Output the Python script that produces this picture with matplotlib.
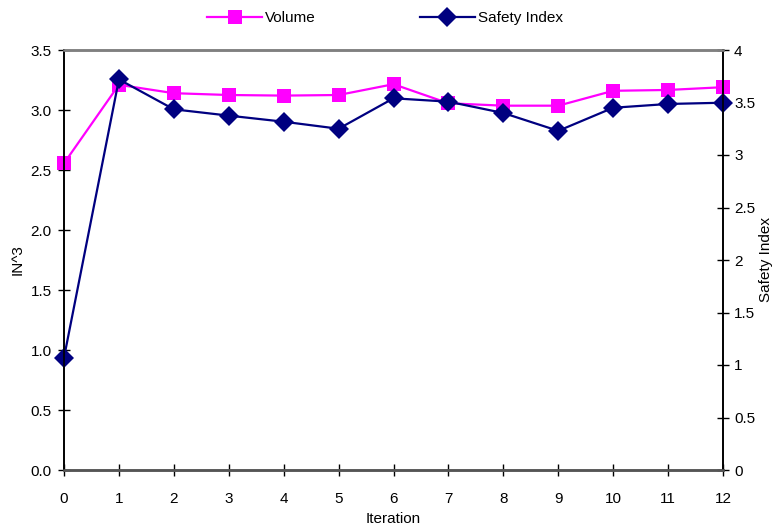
import matplotlib
matplotlib.use("Agg")
import matplotlib.pyplot as plt
from matplotlib.lines import Line2D

plt.rcParams['font.family'] = ['Liberation Sans', 'DejaVu Sans']
plt.rcParams['font.size'] = 11

iterations = list(range(13))
volume = [2.556, 3.21, 3.14, 3.125, 3.12, 3.125, 3.215, 3.056, 3.036, 3.036, 3.16, 3.167, 3.19]
safety_index = [1.07, 3.72, 3.435, 3.375, 3.317, 3.25, 3.54, 3.508, 3.40, 3.23, 3.45, 3.486, 3.498]

vol_ticks = [0.0, 0.5, 1.0, 1.5, 2.0, 2.5, 3.0, 3.5]
si_ticks = [0, 0.5, 1, 1.5, 2, 2.5, 3, 3.5, 4]
si_labels = ["0", "0.5", "1", "1.5", "2", "2.5", "3", "3.5", "4"]

vol_color = "#FF00FF"
si_color = "#000080"

fig = plt.figure(figsize=(7.73, 5.27), dpi=100)
ax = fig.add_axes([64 / 773, 57 / 527, 659 / 773, 420 / 527])
ax2 = ax.twinx()

ax.plot(iterations, volume, color=vol_color, lw=1.6, marker='s', ms=10,
        markeredgewidth=0, clip_on=False)
ax2.plot(iterations, safety_index, color=si_color, lw=1.6, marker='D', ms=10,
         markeredgewidth=0, clip_on=False)

ax.set_xlim(0, 12)
ax.set_ylim(0, 3.5)
ax2.set_ylim(0, 4)
ax.set_xticks(iterations)
ax.set_yticks(vol_ticks)
ax.set_yticklabels(["%.1f" % v for v in vol_ticks])
ax2.set_yticks(si_ticks)
ax2.set_yticklabels(si_labels)

for a in (ax, ax2):
    a.spines['top'].set_color("#808080")
    a.spines['top'].set_linewidth(1.8)
    a.spines['bottom'].set_color("#555555")
    a.spines['bottom'].set_linewidth(1.8)
    a.spines['left'].set_color("black")
    a.spines['right'].set_color("black")
    a.spines['left'].set_linewidth(1.2)
    a.spines['right'].set_linewidth(1.2)

ax.tick_params(axis='x', direction='inout', length=8, width=1, pad=12)
ax.tick_params(axis='y', direction='inout', length=8, width=1, pad=5)
ax2.tick_params(axis='y', direction='inout', length=8, width=1, pad=4)

ax.set_xlabel("Iteration", labelpad=4)
ax.set_ylabel("IN^3", labelpad=4)
ax2.set_ylabel("Safety Index", labelpad=3, rotation=90)

handles = [
    Line2D([], [], color=vol_color, lw=1.6, marker='s', ms=10, markeredgewidth=0),
    Line2D([], [], color=si_color, lw=1.6, marker='D', ms=10, markeredgewidth=0),
]
fig.legend(handles, ["Volume", "Safety Index"], loc='center',
           bbox_to_anchor=(385 / 773, 1 - 18 / 527), ncol=2, frameon=False,
           handlelength=3.6, handletextpad=0.2, columnspacing=6.8)

fig.savefig("out.png", dpi=100)
